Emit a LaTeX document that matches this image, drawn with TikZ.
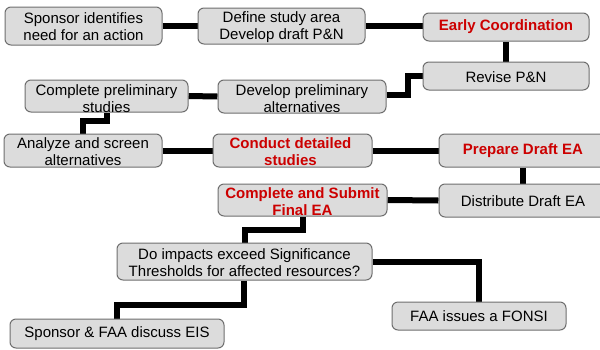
\documentclass[tikz,border=0pt]{standalone}
\usepackage{fontspec}
\setmainfont{Liberation Sans}
\usetikzlibrary{calc}
\pgfdeclarelayer{background}
\pgfsetlayers{background,main}
\definecolor{boxfill}{RGB}{220,220,220}
\definecolor{boxline}{RGB}{110,110,110}
\definecolor{redtxt}{RGB}{204,0,0}
\begin{document}
\begin{tikzpicture}[x=1pt,y=-1pt,
  box/.style={draw=boxline, fill=boxfill, line width=1pt, rounded corners=6pt, inner sep=0pt},
  txt/.style={inner sep=0pt, align=center, font=\fontsize{15}{17}\selectfont, text=black},
  redt/.style={txt, text=redtxt, font=\fontsize{15}{17}\selectfont\bfseries},
  conn/.style={line width=6pt, black}
]
\useasboundingbox (0,0) rectangle (600,349);
% boxes: corners
\newcommand{\mybox}[5]{\node[box, minimum width={#4-#2}, minimum height={#5-#3}] (#1) at ({(#2+#4)/2},{(#3+#5)/2}) {};}
\mybox{b1}{5}{7}{162}{45}
\mybox{b2}{198}{8}{365}{44}
\mybox{b3}{423}{13}{589}{41}
\mybox{b4}{423}{62}{589}{90}
\mybox{b5}{218}{80}{386}{113}
\mybox{b6}{25}{80}{188}{112}
\mybox{b7}{4}{134}{162}{167}
\mybox{b8}{213}{134}{372}{167}
\mybox{b9}{439}{134}{607}{167}
\mybox{b10}{439}{184}{607}{217}
\mybox{b11}{218}{184}{387}{216}
\mybox{b12}{117}{243}{372}{280}
\mybox{b13}{10}{319}{224}{348}
\mybox{b14}{392}{302}{566}{330}
% texts
\node[txt] (t1) at ([yshift=-1pt]b1.center) {Sponsor identifies\\need for an action};
\node[txt] (t2) at ([yshift=-1pt]b2.center) {Define study area\\Develop draft P\&N};
\node[redt] (t3) at (b3.center) {Early Coordination};
\node[txt] (t4) at ([yshift=-1pt]b4.center) {Revise P\&N};
\node[txt] (t5) at ([yshift=-2.5pt]b5.center) {Develop preliminary\\alternatives};
\node[txt] (t6) at ([yshift=-2.5pt]b6.center) {Complete preliminary\\studies};
\node[txt] (t7) at ([yshift=-1.5pt]b7.center) {Analyze and screen\\alternatives};
\node[redt] (t8) at ([xshift=-2pt,yshift=-1.5pt]b8.center) {Conduct detailed\\studies};
\node[redt] (t9) at (b9.center) {Prepare Draft EA};
\node[txt] (t10) at ([yshift=-0.5pt]b10.center) {Distribute Draft EA};
\node[redt] (t11) at ([yshift=-2pt]b11.center) {Complete and Submit\\Final EA};
\node[txt] (t12) at ([yshift=-1.5pt]b12.center) {Do impacts exceed Significance\\Thresholds for affected resources?};
\node[txt] (t13) at (b13.center) {Sponsor \& FAA discuss EIS};
\node[txt] (t14) at (b14.center) {FAA issues a FONSI};
% connectors
\begin{pgfonlayer}{background}
\draw[conn] (b1.east) -- (b2.west);
\draw[conn] (b2.east) -- (b2.east -| b3.west);
\draw[conn] (b3.south) -- (b4.north);
\draw[conn] ([yshift=1.5pt]b5.east) -- ([xshift=21pt,yshift=1.5pt]b5.east) |- (b4.west);
\draw[conn] (b6.east) -- (b5.west);
\draw[conn] (b6.south) |- ($(b6.south)!.42!(b7.north)$) -| (b7.north);
\draw[conn] (b7.east) -- (b8.west);
\draw[conn] (b8.east) -- (b9.west);
\draw[conn] (b9.south) -- (b10.north);
\draw[conn] (b10.west) -- (b11.east);
\draw[conn] (b11.south) |- ($(b11.south)!.5!(b12.north)$) -| (b12.north);
\draw[conn] ([xshift=-1pt]b12.south) |- ($(b12.south)!.65!(b13.north)$) -| (b13.north);
\draw[conn] (b12.east) -| (b14.north);
\end{pgfonlayer}
\end{tikzpicture}
\end{document}
